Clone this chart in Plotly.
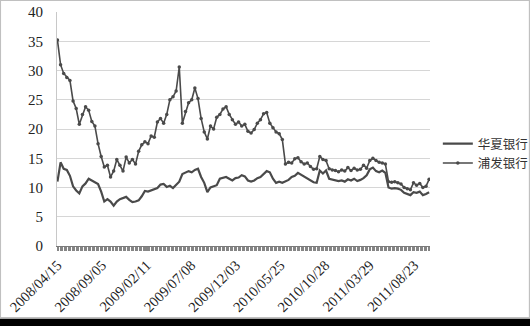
import plotly.graph_objects as go

# trading-day positions (category index) of the sampled points
day_index = list(range(0, 834, 7))

tick_positions = [0, 100, 200, 300, 400, 500, 600, 700, 800]
tick_labels = ["2008/04/15", "2008/09/05", "2009/02/11", "2009/07/08", "2009/12/03",
               "2010/05/25", "2010/10/28", "2011/03/29", "2011/08/23"]

huaxia = [11.0, 14.3, 13.2, 13.0, 12.0, 10.2, 9.5, 9.0, 10.2, 10.7,
          11.5, 11.2, 10.8, 10.6, 9.3, 7.6, 8.0, 7.6, 6.9, 7.6,
          8.0, 8.2, 8.4, 7.9, 7.5, 7.6, 7.8, 8.5, 9.4, 9.3,
          9.5, 9.8, 9.9, 10.5, 10.6, 10.1, 10.3, 9.9, 10.5, 11.0,
          12.3, 12.5, 12.8, 12.6, 13.0, 13.2, 11.8, 10.8, 9.2, 10.0,
          10.2, 10.4, 11.5, 11.6, 11.8, 11.5, 11.2, 11.6, 11.7, 12.1,
          11.9, 11.2, 11.0, 11.2, 11.6, 11.8, 12.3, 12.8, 12.6, 11.5,
          10.8, 11.0, 10.8, 11.0, 11.3, 11.8, 12.0, 12.5, 12.2, 11.9,
          11.6, 11.2, 10.9, 10.8, 12.9, 12.4, 12.9, 11.5, 11.4, 11.3,
          11.1, 11.2, 11.0, 11.4, 11.2, 11.5, 11.1, 11.3, 11.6, 12.1,
          13.1, 13.4, 12.8, 12.6, 12.9, 12.5, 10.0, 9.8, 9.9, 9.8,
          9.6, 9.1, 8.9, 8.7, 9.2, 9.1, 9.3, 8.7, 8.9, 9.2]

pufa = [35.2, 31.0, 29.5, 28.8, 28.3, 24.8, 23.5, 20.8, 22.5, 23.8,
        23.2, 21.3, 20.5, 17.5, 15.3, 13.5, 13.8, 11.8, 12.8, 14.8,
        13.8, 12.8, 15.2, 14.2, 14.8, 14.0, 16.2, 17.3, 17.8, 17.5,
        18.8, 18.6, 21.2, 21.8, 21.0, 22.5, 25.0, 25.5, 26.5, 30.6,
        21.0, 23.0, 24.5, 25.0, 27.0, 25.2, 21.8, 19.5, 18.3, 20.5,
        20.0, 22.0, 22.5, 23.4, 23.8, 22.5, 21.6, 20.8, 21.2, 20.5,
        20.8, 19.6, 19.3, 19.9, 21.0, 21.6, 22.6, 22.8, 21.0, 20.2,
        19.5, 19.2, 18.2, 14.0, 14.3, 14.2, 14.9, 15.1, 14.4, 14.0,
        14.2, 13.6, 13.1, 13.2, 15.3, 14.8, 14.6, 13.2, 13.0, 12.9,
        12.7, 13.0, 12.8, 13.4, 12.9, 13.3, 13.0, 13.1, 13.8, 13.3,
        14.6, 15.0, 14.6, 14.3, 14.2, 14.0, 11.0, 10.9, 11.0, 10.8,
        10.6, 10.0, 9.8, 9.6, 10.8, 10.4, 10.7, 10.0, 10.2, 11.4]

series_names = ["华夏银行", "浦发银行"]
y_ticks = [0, 5, 10, 15, 20, 25, 30, 35, 40]

line_color = "#4a4a4a"
serif = "Liberation Serif, Times New Roman, serif"
cjk = "Noto Sans CJK SC, sans-serif"

fig = go.Figure()
fig.add_trace(go.Scatter(
    x=day_index, y=huaxia, name=series_names[0], mode="lines",
    line=dict(color=line_color, width=2.2),
))
fig.add_trace(go.Scatter(
    x=day_index, y=pufa, name=series_names[1], mode="lines+markers",
    line=dict(color=line_color, width=1.6),
    marker=dict(color=line_color, size=3.5, symbol="circle"),
))

fig.update_layout(
    width=530, height=326,
    margin=dict(l=57, r=100, t=12, b=80, autoexpand=False),
    paper_bgcolor="white", plot_bgcolor="white",
    showlegend=True,
    legend=dict(x=1.021, y=0.395, xanchor="left", yanchor="middle",
                font=dict(family=cjk, size=12.5, color="#333333"),
                itemwidth=30, tracegroupgap=0,
                bgcolor="rgba(0,0,0,0)"),
    font=dict(family=serif, color="#222222"),
    xaxis=dict(
        range=[-1, 835], automargin=False,
        tickmode="array", tickvals=tick_positions, ticktext=tick_labels,
        tickangle=-45, tickfont=dict(family=serif, size=14.5, color="#222222"),
        ticks="outside", ticklen=4, tickcolor="#858585", tickwidth=1,
        minor=dict(dtick=3, tick0=0, ticks="outside", ticklen=4,
                   tickcolor="#858585", tickwidth=1, showgrid=False),
        showgrid=False, zeroline=False,
        showline=True, linecolor="#7a7a7a", linewidth=1,
    ),
    yaxis=dict(
        range=[0, 40], tickmode="array", tickvals=y_ticks, automargin=False,
        tickfont=dict(family=serif, size=15, color="#222222"),
        showgrid=True, gridcolor="#d6d6d6", gridwidth=1.3,
        zeroline=False, showline=True, linecolor="#c8c8c8", linewidth=1,
        ticks="", ticklabelstandoff=10,
    ),
    shapes=[
        dict(type="rect", xref="paper", yref="paper",
             x0=-0.3, x1=1.5, y0=-0.40, y1=-0.311,
             fillcolor="black", line=dict(width=0), layer="above"),
        dict(type="rect", xref="paper", yref="paper",
             x0=-0.152, x1=1.267, y0=-0.307, y1=1.05,
             fillcolor="rgba(0,0,0,0)", line=dict(color="#c0c0c0", width=1.5),
             layer="below"),
    ],
)

fig.write_html("out.html")
